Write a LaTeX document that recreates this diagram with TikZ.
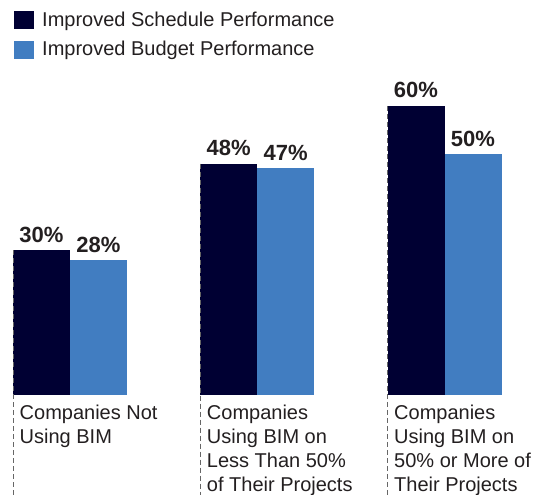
\documentclass[tikz,border=0pt]{standalone}
\usepackage{fontspec}
\setmainfont{Liberation Sans}
\usetikzlibrary{positioning}
\definecolor{navy}{HTML}{000033}
\definecolor{steel}{HTML}{417DC1}
\definecolor{ink}{HTML}{231F20}
\tikzset{
  bar/.style={rectangle, inner sep=0pt, outer sep=0pt, minimum width=57pt, anchor=south west},
  pct/.style={anchor=base, inner sep=0pt, text=ink, font=\fontsize{22}{22}\selectfont\bfseries},
  cat/.style={anchor=north west, align=left, inner sep=0pt, text=ink, font=\fontsize{20}{24}\selectfont},
  guide/.style={draw=black!60, line width=1pt, dash pattern=on 5pt off 3pt},
  key/.style={rectangle, inner sep=0pt, outer sep=0pt, minimum width=20pt, minimum height=18pt, anchor=north west},
  keytext/.style={anchor=base west, inner sep=0pt, text=ink, font=\fontsize{20}{20}\selectfont}
}

\begin{document}
\begin{tikzpicture}[x=1pt, y=1pt]
\useasboundingbox (0,0) rectangle (538,-495);
\coordinate (bottom) at (0,-495);

% legend
\node[key, fill=navy] (k1) at (14,-11.5) {};
\node[key, fill=steel] (k2) at (14,-41.5) {};
\node[keytext] (l1) at ([xshift=8, yshift=-6.5]k1.east) {Improved Schedule Performance};
\node[keytext] (l2) at ([xshift=8, yshift=-5.5]k2.east) {Improved Budget Performance};

% bars, 4.82 units per percent
\foreach \i/\s/\b/\txt in {1/30/28/{Companies Not\\Using BIM},
                           2/48/47/{Companies\\Using BIM on\\Less Than 50\%\\of Their Projects},
                           3/60/50/{Companies\\Using BIM on\\50\% or More of\\Their Projects}} {
  \node[bar, fill=navy, minimum height=\s*4.82pt] (s\i) at (13+187.25*\i-187.25,-395) {};
  \node[bar, fill=steel, minimum height=\b*4.82pt] (b\i) at (s\i.south east) {};
  \node[pct] (ps\i) at ([yshift=8]s\i.north) {\s\%};
  \node[pct] (pb\i) at ([yshift=8]b\i.north) {\b\%};
  \draw[guide] (s\i.north west) -- (s\i.north west |- bottom);
  \node[cat] (c\i) at ([xshift=6.5, yshift=-9.5]s\i.south west) {\txt};
}
\end{tikzpicture}
\end{document}
